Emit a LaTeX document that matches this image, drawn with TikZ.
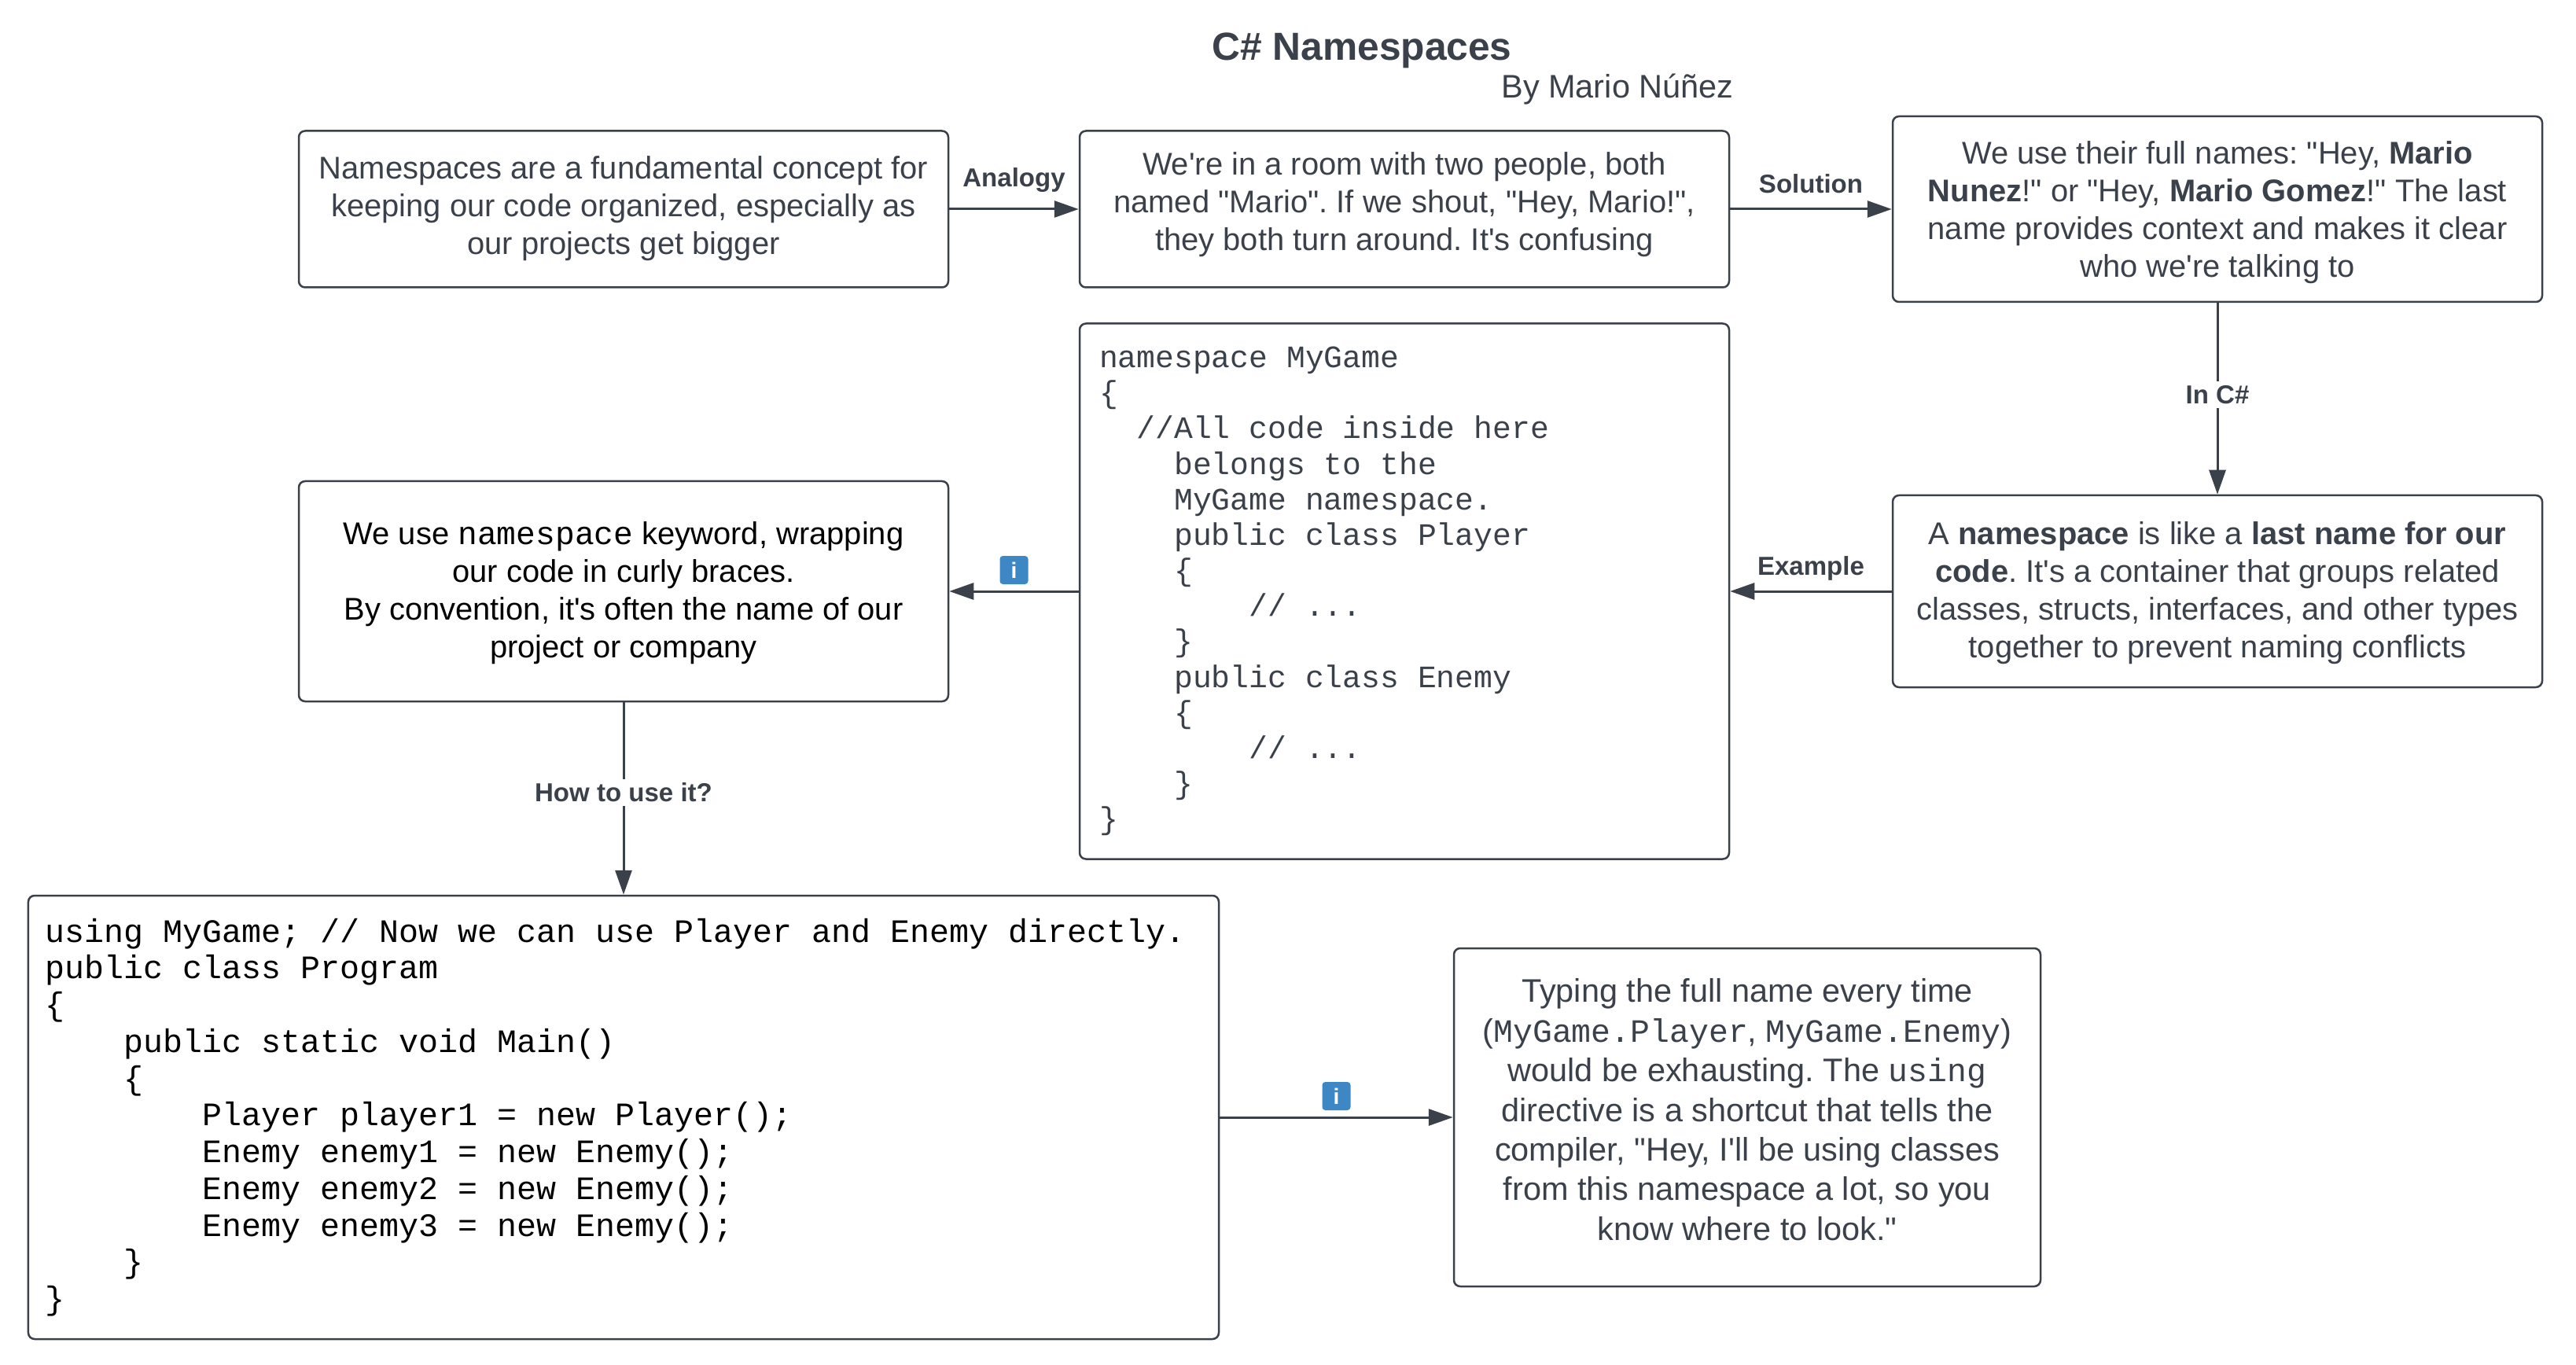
\documentclass[tikz,border=0pt]{standalone}
\usepackage{fontspec}
\setmainfont[Ligatures=TeXOff]{Liberation Sans}
\setmonofont[Ligatures=TeXOff]{Liberation Mono}
\usetikzlibrary{positioning, arrows.meta}
\definecolor{slate}{HTML}{3A414A}
\definecolor{infoblue}{HTML}{3D87C4}
\newcommand{\ind}[1]{\hspace*{#1em}}
\newcommand{\pushup}[1]{\rule[-#1]{0pt}{#1}}
\newcommand{\pushdown}[1]{\rule{0pt}{#1}}

\begin{document}
\frenchspacing
\begin{tikzpicture}
    [
        x=1mm, y=1mm, node distance=48.6mm and 99.3mm, on grid,
        text_box/.style={rectangle, draw=slate, text=slate, line width=0.25mm, rounded corners=0.8mm, align=flush center, minimum width=82.6mm, font=\fontsize{11.36}{13.66}\selectfont},
        code_box/.style={text_box, align=flush left, font=\ttfamily\fontsize{11.3}{12.85}\selectfont},
        flow/.style={-{Triangle[length=3.1mm, width=2.1mm]}, line width=0.3mm, color=slate},
        flow_label/.style={font=\bfseries\fontsize{9.4}{11}\selectfont, text=slate, inner sep=0.5mm},
        info_icon/.style={rectangle, fill=infoblue, text=white, rounded corners=0.4mm, minimum size=3.6mm, inner sep=0mm, outer sep=0mm, font=\bfseries\fontsize{8}{8}\selectfont},
    ]
        \useasboundingbox (0,0) rectangle (327.6,-173.6) ;
        \node[text=slate, font=\bfseries\fontsize{14.15}{16}\selectfont] (title) at (173.2,-6.4) {C\# Namespaces} ;
        \node[text=slate, font=\fontsize{11.8}{14}\selectfont] (author) at (205.7,-11.4) {By Mario Núñez} ;
        % top row
        \node[text_box, minimum height=19.9mm] (intro) at (79.3,-26.6) {Namespaces are a fundamental concept for\\keeping our code organized, especially as\\our projects get bigger\pushup{1mm}} ;
        \node[text_box, minimum height=19.9mm] (room) [right = of intro] {We're in a room with two people, both\\named "Mario". If we shout, "Hey, Mario!",\\they both turn around. It's confusing\pushup{2mm}} ;
        \node[text_box, minimum height=23.6mm] (fullname) [right = 103.4mm of room] {\pushdown{3.7mm}We use their full names: "Hey, \textbf{Mario}\\\textbf{Nunez}!" or "Hey, \textbf{Mario Gomez}!" The last\\name provides context and makes it clear\\who we're talking to} ;
        % middle row
        \node[text_box, minimum height=24.4mm] (lastname) [below = of fullname] {\pushdown{3.3mm}A \textbf{namespace} is like a \textbf{last name for our}\\\textbf{code}. It's a container that groups related\\classes, structs, interfaces, and other types\\together to prevent naming conflicts} ;
        \node[code_box, minimum height=68.1mm, text width=77.6mm] (gamecode) [below = of room] {namespace MyGame\\
{\{}\\
\ind{1.2}//All code inside here\\
\ind{2.4}belongs to the\\
\ind{2.4}MyGame namespace.\\
\ind{2.4}public class Player\\
\ind{2.4}{\{}\\
\ind{4.8}// ...\\
\ind{2.4}{\}}\\
\ind{2.4}public class Enemy\\
\ind{2.4}{\{}\\
\ind{4.8}// ...\\
\ind{2.4}{\}}\\
{\}}} ;
        \node[text_box, text=black, minimum height=28mm] (keyword) [below = of intro] {\pushdown{3.3mm}We use {\ttfamily\fontsize{11.75}{13.66}\selectfont namespace} keyword, wrapping\\our code in curly braces.\\By convention, it's often the name of our\\project or company} ;
        % bottom row
        \node[code_box, text=black, minimum width=151.4mm, minimum height=56.4mm, text width=147mm, font=\ttfamily\fontsize{11.85}{13.3}\selectfont] (program) [below = 66.9mm of keyword] {using MyGame; // Now we can use Player and Enemy directly.\\
public class Program\\
{\{}\\
\ind{2.4}public static void Main()\\
\ind{2.4}{\{}\\
\ind{4.8}Player player1 = new Player();\\
\ind{4.8}Enemy enemy1 = new Enemy();\\
\ind{4.8}Enemy enemy2 = new Enemy();\\
\ind{4.8}Enemy enemy3 = new Enemy();\\
\ind{2.4}{\}}\\
{\}}} ;
        \node[text_box, minimum width=74.6mm, minimum height=43mm, font=\fontsize{11.8}{14.35}\selectfont] (typing) [right = 142.9mm of program] {Typing the full name every time\\(\texttt{MyGame.Player}, \texttt{MyGame.Enemy})\\would be exhausting. The \texttt{using}\\directive is a shortcut that tells the\\compiler, "Hey, I'll be using classes\\from this namespace a lot, so you\\know where to look."\pushup{2mm}} ;
        % connectors
        \draw[flow] (intro) -- (room) node[flow_label, midway, above=1.5mm] (analogy) {Analogy} ;
        \draw[flow] (room) -- (fullname) node[flow_label, midway, above=1.4mm] (solution) {Solution} ;
        \draw[flow] (fullname) -- (lastname) node[flow_label, fill=white, pos=0.48] (inCsharp) {In C\#} ;
        \draw[flow] (lastname) -- (gamecode) node[flow_label, midway, above=0.7mm] (example) {Example} ;
        \draw[flow] (gamecode) -- (keyword) node[info_icon, midway, above=0.9mm] (infoA) {i} ;
        \draw[flow] (keyword) -- (program) node[flow_label, fill=white, pos=0.47] (howto) {How to use it?} ;
        \draw[flow] (program) -- (typing) node[info_icon, midway, above=0.9mm] (infoB) {i} ;
    \end{tikzpicture}
\end{document}
